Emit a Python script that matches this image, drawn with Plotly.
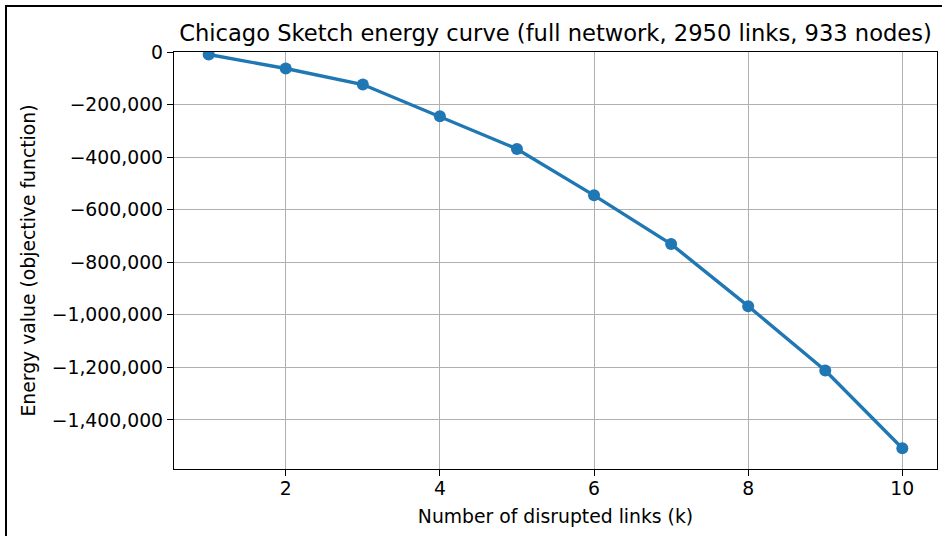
import plotly.graph_objects as go

k_values = [1, 2, 3, 4, 5, 6, 7, 8, 9, 10]
energy_values = [-9500, -62900, -123800, -244600, -368800, -545500, -731000, -967000, -1212000, -1508000]
y_tick_vals = [0, -200000, -400000, -600000, -800000, -1000000, -1200000, -1400000]
x_tick_vals = [2, 4, 6, 8, 10]

title_text = "Chicago Sketch energy curve (full network, 2950 links, 933 nodes)"
x_label = "Number of disrupted links (k)"
y_label = "Energy value (objective function)"

W, H = 942, 536
ml, mr, mt, mb = 174, 5, 52, 67
pw, ph = W - ml - mr, H - mt - mb

font_family = "DejaVu Sans"

fig = go.Figure()
fig.add_trace(go.Scatter(
    x=k_values, y=energy_values, mode="lines+markers",
    line=dict(color="#1f77b4", width=3.4),
    marker=dict(color="#1f77b4", size=12),
    showlegend=False,
))

axis_common = dict(
    showline=True, linecolor="black", linewidth=1.4, mirror=True,
    ticks="outside", ticklen=6, tickwidth=1.4, tickcolor="black",
    showgrid=True, gridcolor="#b0b0b0", gridwidth=1.2,
    zeroline=False,
    tickfont=dict(family=font_family, size=18.8, color="black"),
)

fig.update_layout(
    width=W, height=H,
    margin=dict(l=ml, r=mr, t=mt, b=mb),
    paper_bgcolor="white", plot_bgcolor="white",
    font=dict(family=font_family, color="black"),
    title=dict(text=title_text, x=0.5, xref="paper", y=1 - 33 / H, yref="container",
               xanchor="center", yanchor="middle",
               font=dict(family=font_family, size=22.6, color="black")),
    xaxis=dict(range=[0.55, 10.45], tickvals=x_tick_vals,
               title=dict(text=x_label, font=dict(family=font_family, size=18.8), standoff=12),
               ticklabelstandoff=-4,
               **axis_common),
    yaxis=dict(range=[-1586700, 0], tickvals=y_tick_vals, tickformat=",",
               title=dict(text=y_label, font=dict(family=font_family, size=18.8), standoff=11),
               **axis_common),
    separators=".,",
)

# outer frame of the screenshot (left and top edges visible)
fig.add_shape(type="rect", xref="paper", yref="paper",
              x0=(6 - ml) / pw, x1=(W + 20 - ml) / pw,
              y0=-(H + 20 - mt - ph) / ph - 0.2, y1=1 + (mt - 6) / ph,
              line=dict(color="black", width=2), fillcolor="rgba(0,0,0,0)", layer="above")

fig.write_html("out.html")
